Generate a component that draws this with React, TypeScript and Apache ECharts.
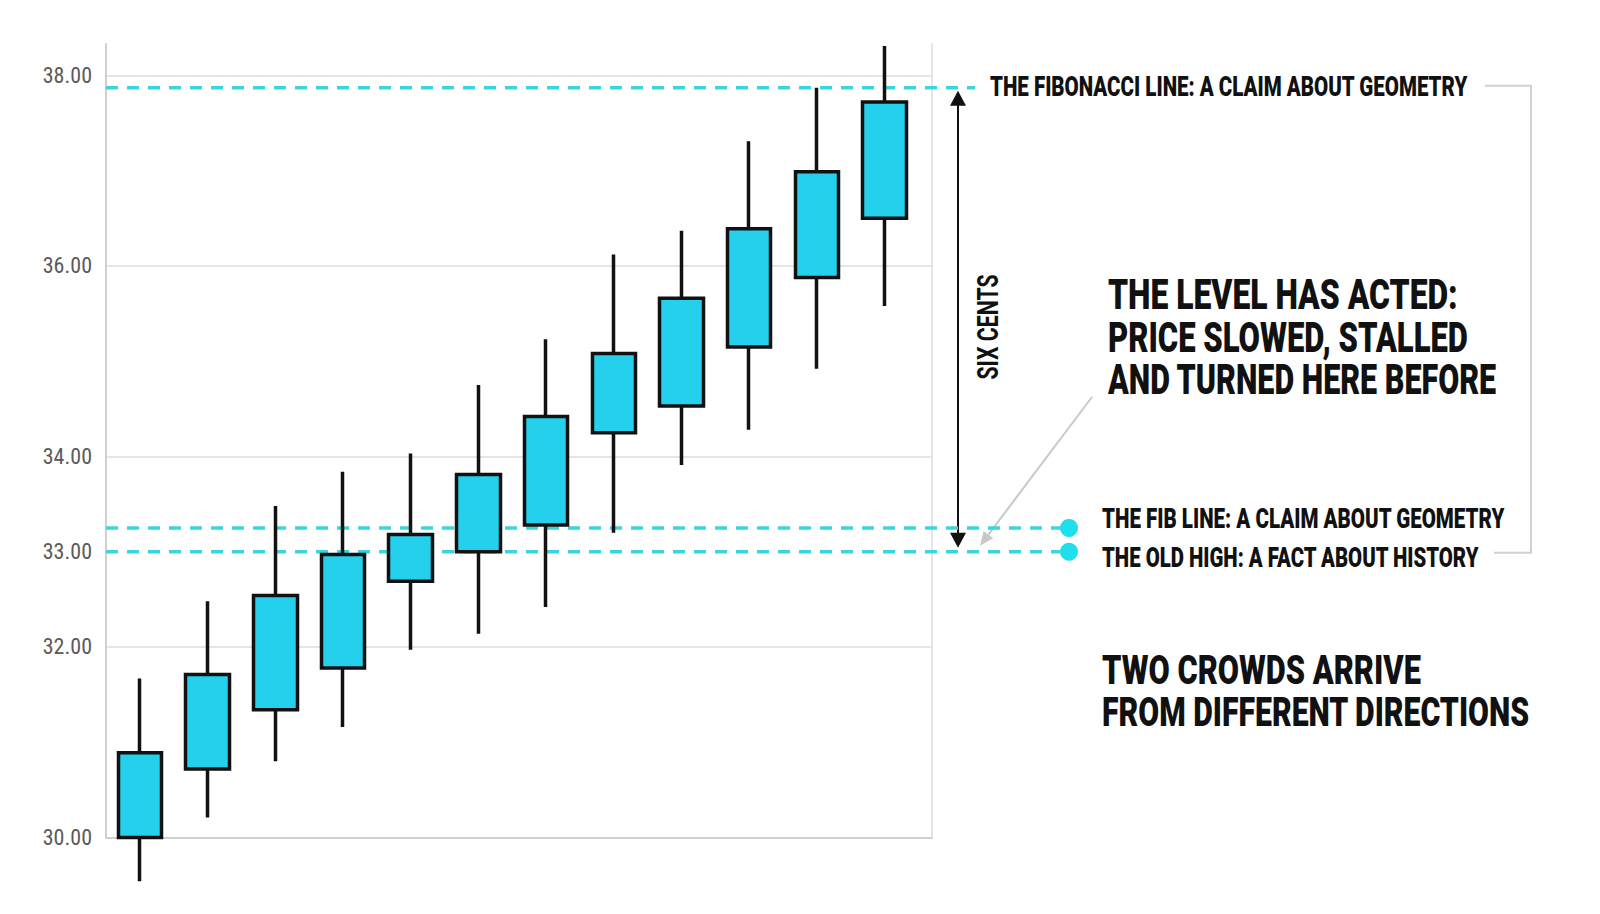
import React, { useEffect, useRef } from "react";
import * as echarts from "echarts";

// twelve sessions, all closing higher than they opened
const sessions = [0, 1, 2, 3, 4, 5, 6, 7, 8, 9, 10, 11];
const opens = [30.0, 30.72, 31.34, 31.78, 32.69, 33.0, 33.28, 34.25, 34.53, 35.15, 35.88, 36.5];
const closes = [30.89, 31.71, 32.54, 32.97, 33.18, 33.81, 34.42, 35.08, 35.66, 36.39, 36.99, 37.72];
const lows = [29.54, 30.21, 30.8, 31.16, 31.97, 32.14, 32.42, 33.2, 33.91, 34.28, 34.92, 35.58];
const highs = [31.67, 32.48, 33.48, 33.84, 34.03, 34.75, 35.23, 36.12, 36.37, 37.31, 37.87, 38.31];

const yTickValues = [30, 32, 33, 34, 36, 38];

// fibonacci line, fib line, old high
const levelValues = [37.87, 33.25, 33.0];
const levelDots = [false, true, true];

const FONT = "Roboto, 'Noto Sans', sans-serif";
const INK = "#111111";
const LEVEL = "#3ad5de";

// squeeze Roboto into the width the condensed lettering takes
function squeeze(text: string, weight: string, size: number, width: number) {
  const ctx = document.createElement("canvas").getContext("2d") as CanvasRenderingContext2D;
  ctx.font = `${weight} ${size}px Roboto`;
  return width / ctx.measureText(text).width;
}

function label(text: string, x: number, y: number, size: number, width: number, weight = "900") {
  return {
    type: "text",
    x,
    y,
    scaleX: squeeze(text, weight, size, width),
    style: {
      text,
      fill: INK,
      font: `${weight} ${size}px ${FONT}`,
      textAlign: "left",
      textVerticalAlign: "middle",
    },
  };
}

const App = () => {
  const chartRef = useRef<HTMLDivElement>(null);

  useEffect(() => {
    const chart = echarts.init(chartRef.current as HTMLDivElement, null, { renderer: "svg" });

    const candles = sessions.map((s, i) => [s, opens[i], closes[i], lows[i], highs[i]]);

    const option: any = {
      animation: false,
      backgroundColor: "#ffffff",
      grid: { left: 106, top: 44, right: 668, bottom: 76.5 },
      xAxis: {
        type: "value",
        min: -0.5,
        max: 11.7,
        axisLine: { show: true, onZero: false, lineStyle: { color: "#d0d0d0", width: 2 } },
        axisTick: { show: false },
        axisLabel: { show: false },
        splitLine: { show: false },
      },
      yAxis: [
        {
          type: "value",
          min: 30,
          max: 38.33,
          interval: 2,
          axisLine: { show: true, onZero: false, lineStyle: { color: "#cfcfcf", width: 2 } },
          axisTick: { show: false },
          axisLabel: {
            customValues: yTickValues,
            formatter: (v: number) => v.toFixed(2),
            color: "#5a5a5a",
            fontFamily: "'Roboto Condensed', 'Liberation Sans Narrow', Roboto, sans-serif",
            fontSize: 22,
            margin: 14,
          },
          splitLine: { show: true, showMaxLine: false, lineStyle: { color: "#dddddd", width: 1.5 } },
        },
        {
          type: "value",
          position: "right",
          min: 30,
          max: 38.33,
          axisLine: { show: true, onZero: false, lineStyle: { color: "#dddddd", width: 1.5 } },
          axisTick: { show: false },
          axisLabel: { show: false },
          splitLine: { show: false },
        },
      ],
      series: [
        {
          type: "candlestick",
          z: 3,
          clip: false,
          barWidth: 44,
          encode: { x: 0, y: [1, 2, 3, 4] },
          itemStyle: {
            color: "#24d0ec",
            color0: "#24d0ec",
            borderColor: INK,
            borderColor0: INK,
            borderWidth: 3.5,
          },
          data: candles,
        },
      ],
    };
    chart.setOption(option);

    const toY = (v: number) => chart.convertToPixel({ yAxisIndex: 0 }, v) as number;
    const left = chart.convertToPixel({ xAxisIndex: 0 }, -0.5) as number;
    const levelY = levelValues.map(toY);
    const yTop = levelY[0];
    const yBase = levelY[2];
    const ax = 958;

    const levelMarks: any[] = [];
    levelY.forEach((y, i) => {
      levelMarks.push({
        type: "line",
        z: 1,
        shape: { x1: left, y1: y, x2: levelDots[i] ? 1062 : 975, y2: y },
        style: { stroke: LEVEL, lineWidth: 3.5, lineDash: [12, 9] },
      });
      if (levelDots[i]) {
        levelMarks.push({
          type: "circle",
          z: 1,
          shape: { cx: 1069, cy: y, r: 9 },
          style: { fill: "#1fdfec" },
        });
      }
    });

    // grey pointer from the big caption down to the old high
    const from = [1092, 397];
    const tip = [980, yBase - 6];
    const dx = tip[0] - from[0];
    const dy = tip[1] - from[1];
    const len = Math.hypot(dx, dy);
    const ux = dx / len;
    const uy = dy / len;
    const bx = tip[0] - ux * 14;
    const by = tip[1] - uy * 14;

    chart.setOption({
      graphic: [
        ...levelMarks,
        {
          type: "line",
          shape: { x1: ax, y1: yTop + 14, x2: ax, y2: yBase - 14 },
          style: { stroke: INK, lineWidth: 2 },
        },
        {
          type: "polygon",
          shape: { points: [[ax, yTop + 3], [ax - 8, yTop + 18], [ax + 8, yTop + 18]] },
          style: { fill: INK },
        },
        {
          type: "polygon",
          shape: { points: [[ax, yBase - 4], [ax - 8, yBase - 19], [ax + 8, yBase - 19]] },
          style: { fill: INK },
        },
        {
          type: "line",
          shape: { x1: from[0], y1: from[1], x2: bx, y2: by },
          style: { stroke: "#c8c8c8", lineWidth: 2 },
        },
        {
          type: "polygon",
          shape: {
            points: [tip, [bx - uy * 6, by + ux * 6], [bx + uy * 6, by - ux * 6]],
          },
          style: { fill: "#c8c8c8" },
        },
        {
          type: "polyline",
          shape: { points: [[1485, yTop - 2], [1531, yTop - 2], [1531, yBase + 1], [1494, yBase + 1]] },
          style: { stroke: "#d0d0d0", lineWidth: 2, fill: null },
        },
        {
          type: "text",
          x: 988,
          y: 327,
          rotation: Math.PI / 2,
          scaleX: squeeze("SIX CENTS", "bold", 30, 105),
          style: {
            text: "SIX CENTS",
            fill: INK,
            font: `bold 30px ${FONT}`,
            textAlign: "center",
            textVerticalAlign: "middle",
          },
        },
        label("THE FIBONACCI LINE: A CLAIM ABOUT GEOMETRY", 990, 86, 28, 478),
        label("THE LEVEL HAS ACTED:", 1108, 294, 42, 350),
        label("PRICE SLOWED, STALLED", 1108, 337.5, 42, 360),
        label("AND TURNED HERE BEFORE", 1108, 380, 42, 389),
        label("THE FIB LINE: A CLAIM ABOUT GEOMETRY", 1102, 518, 28, 403),
        label("THE OLD HIGH: A FACT ABOUT HISTORY", 1102, 557, 28, 378),
        label("TWO CROWDS ARRIVE", 1102, 669.5, 41, 319),
        label("FROM DIFFERENT DIRECTIONS", 1102, 712.5, 41, 428),
      ],
    });

    return () => {
      chart.dispose();
    };
  }, []);

  return (
    <div
      ref={chartRef}
      style={{ position: "absolute", left: 0, top: 0, width: "1600px", height: "914px" }}
    />
  );
};

export default App;
